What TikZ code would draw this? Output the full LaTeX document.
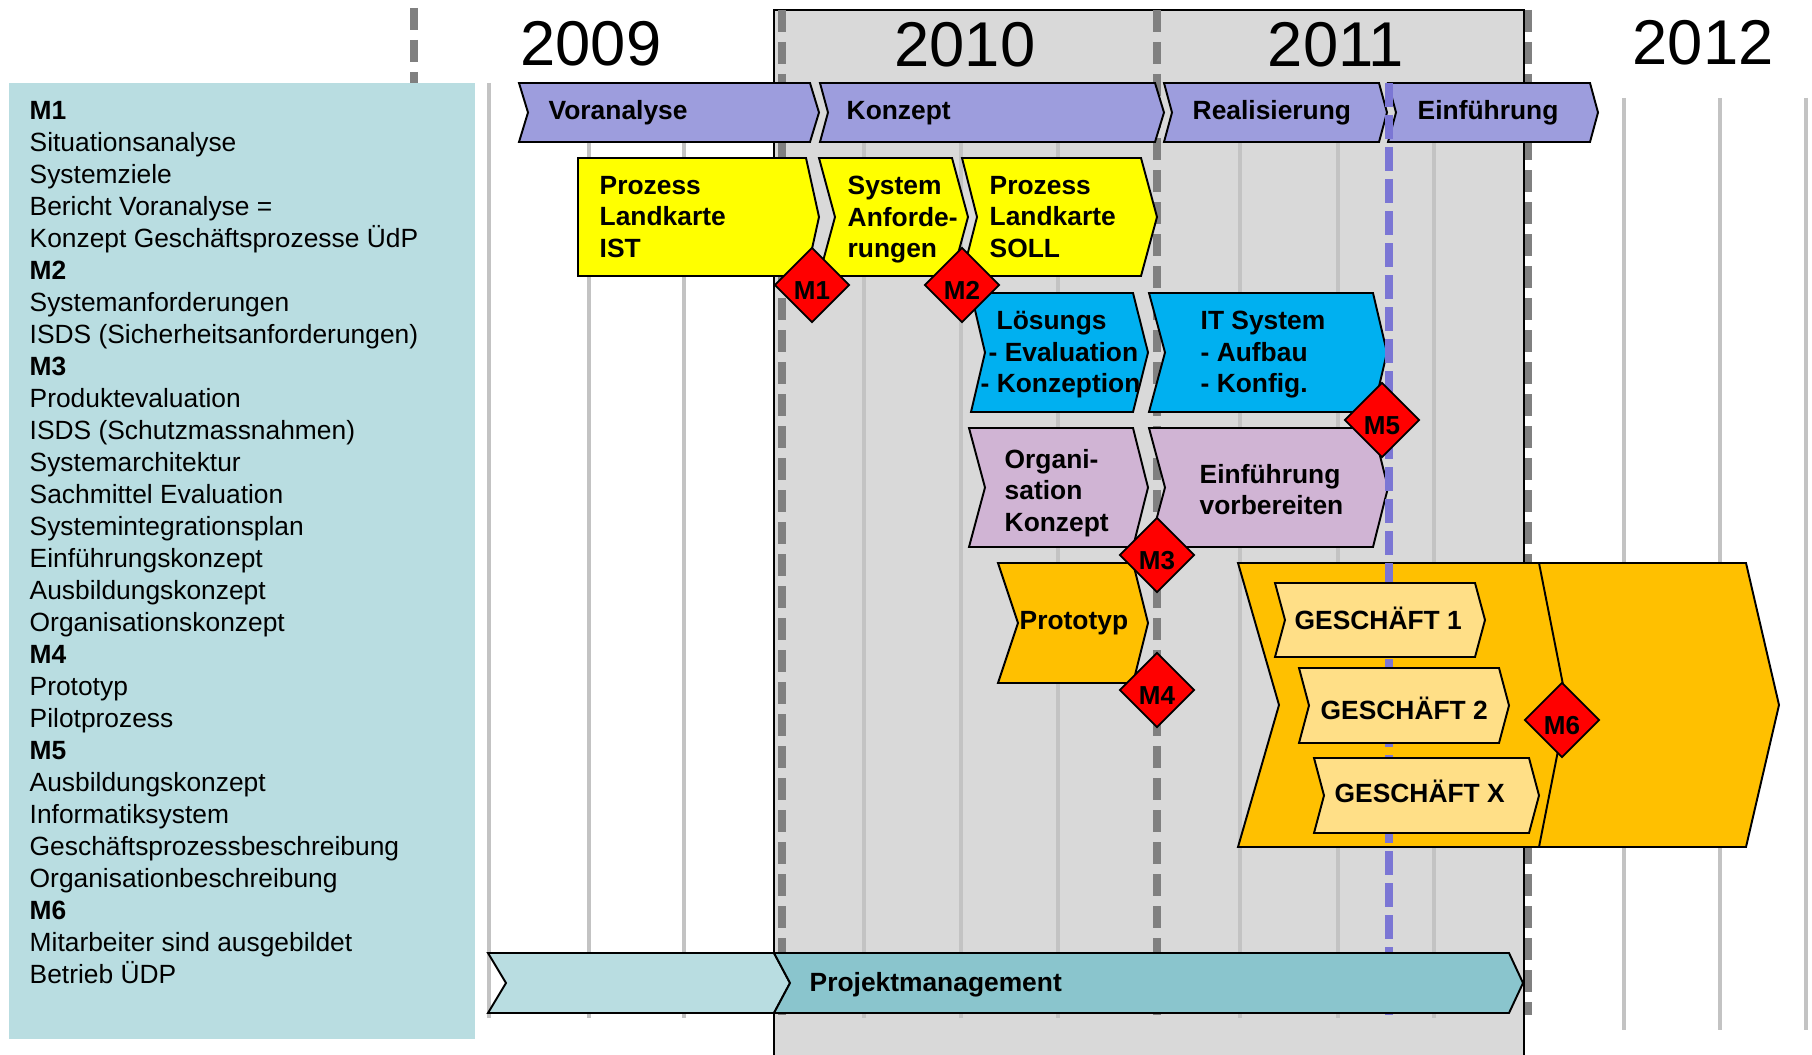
\documentclass[tikz,border=0pt]{standalone}
\usepackage{fontspec}
\setmainfont{Liberation Sans}
\usetikzlibrary{shapes.geometric}

\definecolor{phase}{RGB}{157,157,221}
\definecolor{gelb}{RGB}{255,255,0}
\definecolor{cyanblau}{RGB}{0,176,240}
\definecolor{lila}{RGB}{208,180,212}
\definecolor{dunkelgelb}{RGB}{255,192,0}
\definecolor{hellorange}{RGB}{255,223,135}
\definecolor{hellblau}{RGB}{185,221,225}
\definecolor{pmblau}{RGB}{138,197,205}
\definecolor{flaeche}{RGB}{217,217,217}
\definecolor{linie}{RGB}{195,195,195}
\definecolor{jahr}{RGB}{128,128,128}
\definecolor{stichtag}{RGB}{123,118,212}

% [style]{left}{right}{top}{bottom}{notch}{tip}
\newcommand{\pfeil}[7][]{\filldraw[pfeilrand,#1] (#2,#4) -- (#3,#4) -- ({#3+#7},{(#4+#5)/2}) -- (#3,#5) -- (#2,#5) -- ({#2+#6},{(#4+#5)/2}) -- cycle;}

\tikzset{
  pfeilrand/.style={draw=black, line width=0.55pt, line join=miter},
  balken/.style={font=\fontsize{7.5}{9}\selectfont\bfseries, inner sep=0pt, align=left},
  meilenstein/.style={diamond, draw=black, fill=red, line width=0.5pt, minimum width=0.75cm, minimum height=0.75cm, inner sep=0pt, text height=0.28cm, text depth=0pt, font=\fontsize{7.4}{9}\selectfont\bfseries},
  quartal/.style={draw=linie, line width=1.1pt},
  jahresgrenze/.style={draw=jahr, line width=2pt, dash pattern=on 6.3pt off 2.8pt},
  jahrzahl/.style={font=\fontsize{18}{20}\selectfont, inner sep=0pt},
}

\begin{document}
\begin{tikzpicture}[x=0.01cm, y=-0.01cm]
\useasboundingbox (0,0) rectangle (1812,1055);

\fill[flaeche] (774,10) rectangle (1524,1055);
\draw[line width=0.6pt] (774,1055) -- (774,10) -- (1524,10) -- (1524,1055);

\foreach \x in {489,589,684,864,961,1058,1240,1338,1434}
  \draw[quartal] (\x,83) -- (\x,1018);
\foreach \x in {1624,1720,1806}
  \draw[quartal] (\x,98) -- (\x,1030);

\draw[jahresgrenze] (414,8) -- (414,83);
\foreach \x in {782,1157,1528}
  \draw[jahresgrenze] (\x,10) -- (\x,1015);

\fill[hellblau] (9,83) rectangle (475,1039);
\node[anchor=north west, inner sep=0pt, align=left, font=\fontsize{7.5}{9.1}\selectfont] (legende) at (29,101) {%
\textbf{M1}\\Situationsanalyse\\Systemziele\\Bericht Voranalyse =\\Konzept Geschäftsprozesse ÜdP\\
\textbf{M2}\\Systemanforderungen\\ISDS (Sicherheitsanforderungen)\\
\textbf{M3}\\Produktevaluation\\ISDS (Schutzmassnahmen)\\Systemarchitektur\\Sachmittel Evaluation\\Systemintegrationsplan\\Einführungskonzept\\Ausbildungskonzept\\Organisationskonzept\\
\textbf{M4}\\Prototyp\\Pilotprozess\\
\textbf{M5}\\Ausbildungskonzept\\Informatiksystem\\Geschäftsprozessbeschreibung\\Organisationbeschreibung\\
\textbf{M6}\\Mitarbeiter sind ausgebildet\\Betrieb ÜDP};

\node[jahrzahl] (j2009) at (591,44) {2009};
\node[jahrzahl] (j2010) at (965,45) {2010};
\node[jahrzahl] (j2011) at (1336,45) {2011};
\node[jahrzahl] (j2012) at (1703,43) {2012};

% Phasen
\pfeil[fill=phase]{519}{810}{83}{142}{9}{9}
\pfeil[fill=phase]{820}{1155}{83}{142}{8}{9}
\pfeil[fill=phase]{1164}{1379}{83}{142}{8}{8}
\pfeil[fill=phase]{1388}{1590}{83}{142}{8}{8}

\pfeil[fill=gelb]{578}{806}{158}{276}{0}{13}
\pfeil[fill=gelb]{819}{952}{158}{276}{16}{16}
\pfeil[fill=gelb]{962}{1141}{158}{276}{15}{16}

\pfeil[fill=cyanblau]{971}{1133}{293}{412}{14}{15}
\pfeil[fill=cyanblau]{1149}{1373}{293}{412}{16}{14}

\pfeil[fill=lila]{969}{1133}{428}{547}{16}{15}
\pfeil[fill=lila]{1149}{1373}{428}{547}{16}{15}

\pfeil[fill=dunkelgelb]{998}{1133}{563}{683}{20}{15}
\pfeil[fill=dunkelgelb]{1238}{1746}{563}{847}{41}{33}
\draw[pfeilrand] (1539,563) -- (1567,705) -- (1539,847);

\draw[draw=stichtag, line width=2.2pt, dash pattern=on 6.8pt off 2.3pt] (1389,83) -- (1389,1015);

\pfeil[fill=hellblau]{488}{774}{953}{1013}{18}{16}
\pfeil[fill=pmblau]{774}{1509}{953}{1013}{16}{14}

\pfeil[fill=hellorange]{1275}{1475}{583}{657}{10}{10}
\pfeil[fill=hellorange]{1299}{1499}{668}{743}{10}{10}
\pfeil[fill=hellorange]{1314}{1529}{758}{833}{10}{10}

\node[meilenstein] (m1) at (812,285) {M1};
\node[meilenstein] (m2) at (962,285) {M2};
\node[meilenstein] (m3) at (1157,555) {M3};
\node[meilenstein] (m4) at (1157,690) {M4};
\node[meilenstein] (m5) at (1382,420) {M5};
\node[meilenstein] (m6) at (1562,720) {M6};

\node[balken, anchor=base west] (voranalyse) at (548,119.5) {Voranalyse};
\node[balken, anchor=base west] (konzept) at (846,119.5) {Konzept};
\node[balken, anchor=base west] (realisierung) at (1192,119.5) {Realisierung};
\node[balken, anchor=base west] (einfuehrung) at (1417,119.5) {Einführung};

\node[balken, anchor=north west] (istkarte) at (599,175.5) {Prozess\\Landkarte\\IST};
\node[balken, anchor=north west] (sysanf) at (847,175.5) {System\\Anforde-\\rungen};
\node[balken, anchor=north west] (sollkarte) at (989,175.5) {Prozess\\Landkarte\\SOLL};
\node[balken, anchor=north west] (loesung) at (980,310.5) {\hspace{0.16cm}Lösungs\\\hspace{0.08cm}- Evaluation\\- Konzeption};
\node[balken, anchor=north west] (itsys) at (1200,310.5) {IT System\\- Aufbau\\- Konfig.};
\node[balken, anchor=north west] (orgkonz) at (1004,448.5) {Organi-\\sation\\Konzept};
\node[balken, anchor=north west] (einfvorb) at (1199,463.5) {Einführung\\vorbereiten};

\node[balken, anchor=base west] (prototyp) at (1019,629.5) {Prototyp};
\node[balken, anchor=base west] (gesch1) at (1294,629.5) {GESCHÄFT 1};
\node[balken, anchor=base west] (gesch2) at (1320,719) {GESCHÄFT 2};
\node[balken, anchor=base west] (geschx) at (1334,802.5) {GESCHÄFT X};
\node[balken, anchor=base west] (projmgmt) at (809,991.5) {Projektmanagement};
\end{tikzpicture}
\end{document}
